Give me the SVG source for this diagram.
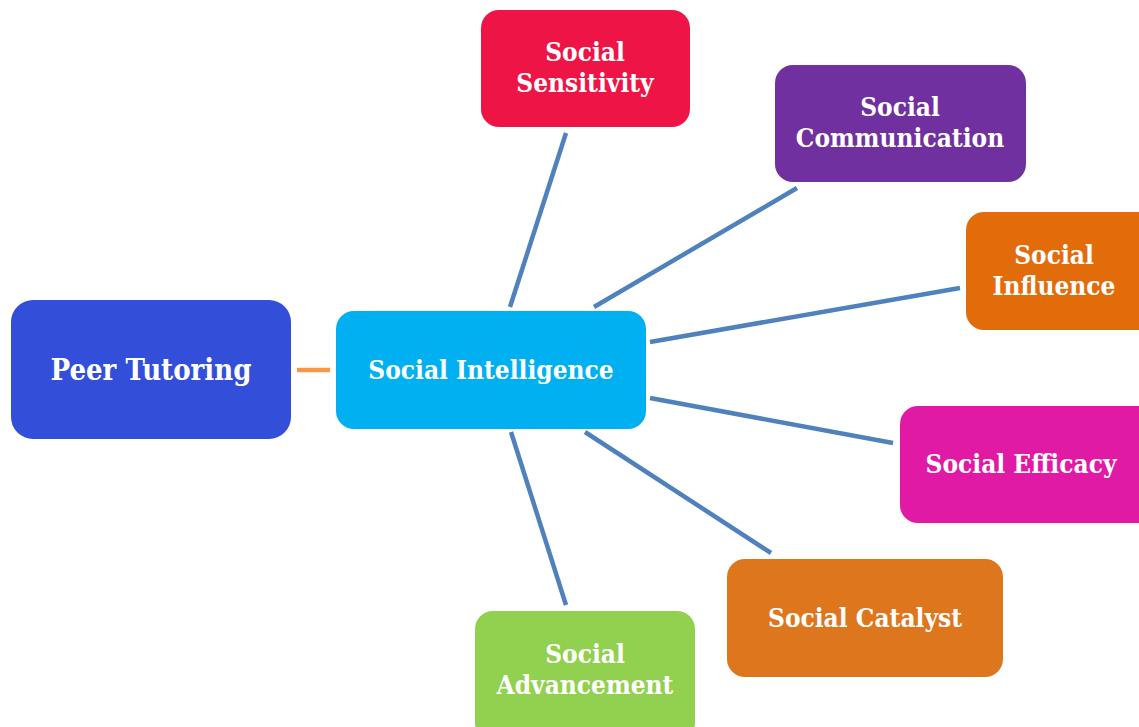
<svg xmlns="http://www.w3.org/2000/svg" width="1139" height="727" viewBox="0 0 1139 727">
  <style>
    .box { stroke: none; }
    .lbl { font-family: "DejaVu Serif Condensed", "DejaVu Serif", serif; font-stretch: condensed; font-weight: bold; font-size: 26px; fill: #ffffff; text-anchor: middle; }
    .big { font-size: 29px; }
    .link { stroke: #4F81BD; stroke-width: 4.5; fill: none; }
    .bridge { stroke: #F79646; stroke-width: 4.5; fill: none; }
  </style>
  <rect width="1139" height="727" fill="#ffffff"/>

  <!-- spokes from the central node -->
  <g id="connectors">
    <line class="bridge" x1="297" y1="370" x2="330" y2="370"/>
    <line class="link" x1="510" y1="307" x2="566" y2="133"/>
    <line class="link" x1="594" y1="307" x2="797" y2="188"/>
    <line class="link" x1="650" y1="342" x2="960" y2="288"/>
    <line class="link" x1="650" y1="398" x2="893" y2="443"/>
    <line class="link" x1="585" y1="432" x2="771" y2="553"/>
    <line class="link" x1="511" y1="432" x2="566" y2="605"/>
  </g>

  <g id="peer-tutoring">
    <rect class="box" x="11" y="300" width="280" height="139" rx="22" fill="#334FD9"/>
    <text class="lbl big" x="151" y="380">Peer Tutoring</text>
  </g>

  <g id="social-intelligence">
    <rect class="box" x="336" y="311" width="310" height="118" rx="18" fill="#00B0F0"/>
    <text class="lbl" x="491" y="379">Social Intelligence</text>
  </g>

  <g id="social-sensitivity">
    <rect class="box" x="481" y="10" width="209" height="117" rx="18" fill="#EF1446"/>
    <text class="lbl" x="585" y="61">Social</text>
    <text class="lbl" x="585" y="92">Sensitivity</text>
  </g>

  <g id="social-communication">
    <rect class="box" x="775" y="65" width="251" height="117" rx="18" fill="#7030A0"/>
    <text class="lbl" x="900" y="116">Social</text>
    <text class="lbl" x="900" y="147">Communication</text>
  </g>

  <g id="social-influence">
    <rect class="box" x="966" y="212" width="190" height="118" rx="18" fill="#E36C0A"/>
    <text class="lbl" x="1054" y="264">Social</text>
    <text class="lbl" x="1054" y="295">Influence</text>
  </g>

  <g id="social-efficacy">
    <rect class="box" x="900" y="406" width="256" height="117" rx="18" fill="#E11AA6"/>
    <text class="lbl" x="1021" y="473">Social Efficacy</text>
  </g>

  <g id="social-catalyst">
    <rect class="box" x="727" y="559" width="276" height="118" rx="18" fill="#DD761C"/>
    <text class="lbl" x="865" y="627">Social Catalyst</text>
  </g>

  <g id="social-advancement">
    <rect class="box" x="475" y="611" width="220" height="130" rx="18" fill="#92D050"/>
    <text class="lbl" x="585" y="663">Social</text>
    <text class="lbl" x="585" y="694">Advancement</text>
  </g>
</svg>
